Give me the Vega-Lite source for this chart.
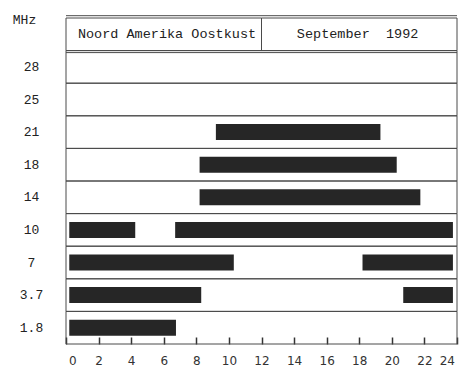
{
  "$schema": "https://vega.github.io/schema/vega-lite/v6.json",
  "width": 391,
  "height": 326,
  "autosize": {"type": "none"},
  "padding": {"left": 66, "top": 18, "right": 3, "bottom": 22},
  "background": "white",
  "config": {
    "view": {"stroke": null},
    "axisX": {
      "title": null,
      "domain": false,
      "grid": false,
      "tickSize": -7,
      "tickColor": "#333",
      "tickWidth": 1.5,
      "labelFont": "DejaVu Sans",
      "labelFontSize": 12,
      "labelColor": "#333",
      "labelPadding": 18,
      "labelOverlap": false,
      "labelFlush": true,
      "labelFlushOffset": -2.5
    }
  },
  "datasets": {
    "rows": [
      {"freq": "28"}, {"freq": "25"}, {"freq": "21"}, {"freq": "18"}, {"freq": "14"},
      {"freq": "10"}, {"freq": "7"}, {"freq": "3.7"}, {"freq": "1.8"}
    ],
    "header": [
      {"freq": "hdr", "cell": "Noord Amerika Oostkust", "from": 0, "to": 12},
      {"freq": "hdr", "cell": "September\u00a0 1992", "from": 12, "to": 24}
    ],
    "bars": [
      {"freq": "21", "start": 9.2, "end": 19.3},
      {"freq": "18", "start": 8.2, "end": 20.3},
      {"freq": "14", "start": 8.2, "end": 21.75},
      {"freq": "10", "start": 0.2, "end": 4.25},
      {"freq": "10", "start": 6.7, "end": 23.75},
      {"freq": "7", "start": 0.2, "end": 10.3},
      {"freq": "7", "start": 18.2, "end": 23.75},
      {"freq": "3.7", "start": 0.2, "end": 8.3},
      {"freq": "3.7", "start": 20.7, "end": 23.75},
      {"freq": "1.8", "start": 0.2, "end": 6.75}
    ]
  },
  "layer": [
    {
      "data": {"name": "rows"},
      "mark": {"type": "rect", "fill": null, "stroke": "#4a4a4a", "strokeWidth": 1},
      "encoding": {
        "x": {
          "datum": 0,
          "type": "quantitative",
          "scale": {"domain": [0, 24], "nice": false, "zero": false},
          "axis": {"values": [0, 2, 4, 6, 8, 10, 12, 14, 16, 18, 20, 22, 24], "title": null}
        },
        "x2": {"datum": 24},
        "y": {
          "field": "freq",
          "type": "nominal",
          "scale": {
            "domain": ["hdr", "28", "25", "21", "18", "14", "10", "7", "3.7", "1.8"],
            "paddingInner": 0,
            "paddingOuter": 0
          },
          "axis": {
            "title": "MHz",
            "titleAngle": 0,
            "titleX": -42,
            "titleY": 1,
            "titleAlign": "center",
            "titleBaseline": "middle",
            "titleFont": "Liberation Mono",
            "titleFontSize": 13,
            "titleFontWeight": "normal",
            "titleColor": "#222",
            "labelExpr": "datum.value == 'hdr' ? '' : datum.value",
            "labelFont": "Liberation Mono",
            "labelFontSize": 13,
            "labelColor": "#222",
            "labelAlign": "center",
            "labelPadding": 35,
            "ticks": false,
            "domain": false,
            "grid": false
          }
        }
      }
    },
    {
      "data": {"name": "header"},
      "mark": {"type": "rect", "fill": null, "stroke": "#4a4a4a", "strokeWidth": 1},
      "encoding": {
        "x": {"field": "from", "type": "quantitative", "axis": {"values": [0, 2, 4, 6, 8, 10, 12, 14, 16, 18, 20, 22, 24], "title": null}},
        "x2": {"field": "to"},
        "y": {"field": "freq", "type": "nominal"}
      }
    },
    {
      "data": {"name": "header"},
      "transform": [{"filter": "datum.from == 0"}],
      "mark": {"type": "rule", "stroke": "#4a4a4a", "strokeWidth": 1, "yOffset": -2.3},
      "encoding": {
        "x": {"datum": 0, "type": "quantitative", "axis": {"values": [0, 2, 4, 6, 8, 10, 12, 14, 16, 18, 20, 22, 24], "title": null}},
        "x2": {"datum": 24},
        "y": {"field": "freq", "type": "nominal", "bandPosition": 0}
      }
    },
    {
      "data": {"name": "header"},
      "transform": [{"filter": "datum.from == 0"}],
      "mark": {"type": "rule", "stroke": "#4a4a4a", "strokeWidth": 1, "yOffset": 2},
      "encoding": {
        "x": {"datum": 0, "type": "quantitative", "axis": {"values": [0, 2, 4, 6, 8, 10, 12, 14, 16, 18, 20, 22, 24], "title": null}},
        "x2": {"datum": 24},
        "y": {"field": "freq", "type": "nominal", "bandPosition": 1}
      }
    },
    {
      "data": {"name": "header"},
      "transform": [{"filter": "datum.from == 0"}],
      "mark": {"type": "text", "font": "Liberation Mono", "fontSize": 13.5, "color": "#222"},
      "encoding": {
        "x": {"datum": 6.2, "type": "quantitative", "axis": {"values": [0, 2, 4, 6, 8, 10, 12, 14, 16, 18, 20, 22, 24], "title": null}},
        "y": {"field": "freq", "type": "nominal"},
        "text": {"field": "cell"}
      }
    },
    {
      "data": {"name": "header"},
      "transform": [{"filter": "datum.from == 12"}],
      "mark": {"type": "text", "font": "Liberation Mono", "fontSize": 13.5, "color": "#222"},
      "encoding": {
        "x": {"datum": 17.9, "type": "quantitative", "axis": {"values": [0, 2, 4, 6, 8, 10, 12, 14, 16, 18, 20, 22, 24], "title": null}},
        "y": {"field": "freq", "type": "nominal"},
        "text": {"field": "cell"}
      }
    },
    {
      "data": {"name": "bars"},
      "mark": {"type": "bar", "color": "#262626", "height": {"band": 0.49}},
      "encoding": {
        "x": {"field": "start", "type": "quantitative", "axis": {"values": [0, 2, 4, 6, 8, 10, 12, 14, 16, 18, 20, 22, 24], "title": null}},
        "x2": {"field": "end"},
        "y": {"field": "freq", "type": "nominal"}
      }
    }
  ]
}
